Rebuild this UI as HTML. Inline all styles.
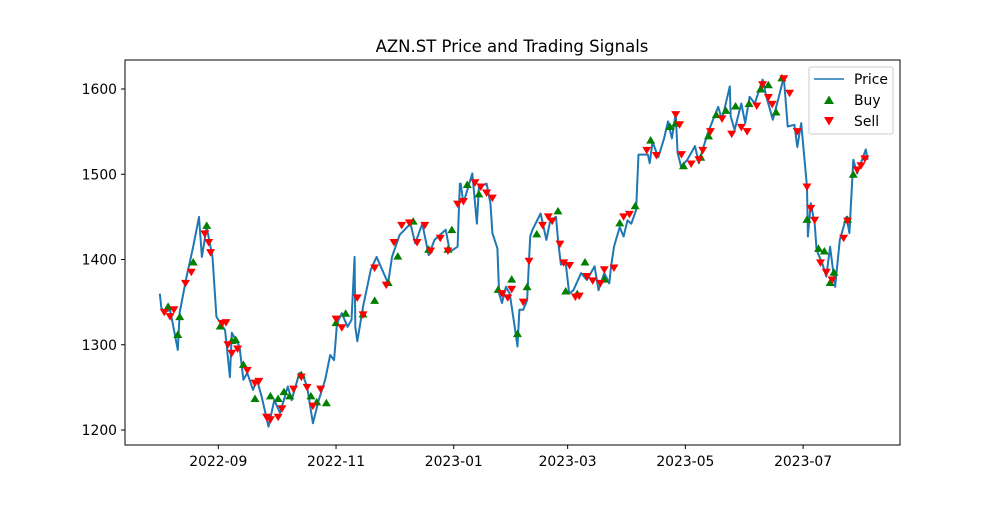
<!DOCTYPE html>
<html><head><meta charset="utf-8"><style>
html,body{margin:0;padding:0;background:#fff;}
svg text{font-family:"DejaVu Sans","Liberation Sans",sans-serif;fill:#000;}
</style></head><body>
<svg id="chart" width="1000" height="500" xmlns="http://www.w3.org/2000/svg">
<rect x="0" y="0" width="1000" height="500" fill="#fff"/>
<text x="512" y="52" text-anchor="middle" font-size="16.5">AZN.ST Price and Trading Signals</text>
<g id="plot"></g>
<rect x="125" y="60" width="775" height="385" fill="none" stroke="#000" stroke-width="1"/>
<g>
<rect x="809" y="67" width="84" height="67" rx="2" fill="#fff" fill-opacity="0.8" stroke="#ccc"/>
<line x1="814" y1="79" x2="844" y2="79" stroke="#1f77b4" stroke-width="1.6"/>
<text x="854" y="84" font-size="13.9">Price</text>
<polygon points="829,95.5 834,104 824,104" fill="#008000"/>
<text x="854" y="105" font-size="13.9">Buy</text>
<polygon points="824,117 834,117 829,125.5" fill="#ff0000"/>
<text x="854" y="126" font-size="13.9">Sell</text>
</g>
</svg>
<script>
// days offset from 2022-08-01
const priceDays=[0.7,1.5,3,6,10,11,14.6,18,21,22.5,25,28,30,34.5,37,38,42,44,46,49,51,53.5,57,60,63,67,69,73,75,77,80,83,86.4,89,91,92.5,95,98,100,101.6,102,103,106,110,113,119,121,125,130.6,133,136.7,140,143,148.8,151,155,155.7,156.2,156.6,158,162.6,165,166,170,172,173,175.6,176.5,178,180,182,184.3,186,187,189,191,192.6,193.8,198,201,203,206,207,208.5,211,212.8,215,219,222,226,228,231,233.6,234.5,236,239,241,243,245,247.5,248.7,253.6,254.5,256,259,262,264,266,268,269,270.8,274,278,280,282,284.6,290,292,296,296.5,298.5,302,304,306.3,309,313,315,318.3,321,324,326,329.5,331,333,336,336.5,338,340,341,344,346,348,350.6,353,356.5,358,360,362,366.5,367.5];
const priceVals=[1360,1343,1338,1341,1294,1338,1380,1415,1450,1403,1438,1403,1333,1317,1262,1314,1298,1259,1267,1247,1259,1239,1204,1235,1220,1251,1235,1267,1263,1251,1208,1235,1259,1288,1282,1325,1337,1321,1329,1403,1321,1304,1345,1388,1403,1372,1403,1429,1442,1419,1442,1405,1423,1435,1409,1415,1462,1489,1489,1466,1501,1442,1485,1489,1466,1431,1413,1360,1349,1368,1360,1325,1298,1341,1341,1352,1427,1435,1454,1423,1446,1450,1423,1394,1396,1360,1364,1384,1376,1392,1364,1384,1372,1392,1415,1438,1427,1446,1442,1458,1523,1523,1513,1538,1520,1542,1562,1542,1571,1525,1509,1517,1533,1513,1529,1548,1579,1564,1603,1568,1552,1583,1560,1591,1583,1611,1591,1564,1587,1614,1556,1558,1532,1560,1485,1427,1466,1442,1411,1395,1380,1415,1368,1423,1450,1431,1517,1501,1529,1517,1520];
const buyDays=[5,10,11,18,25,32,38,40,44,50,58,62,65,68,74,79,82,87,92,97,106,112,119,124,132,140,150,152,160,166,176,183,186,191,196,207,211,217,221,231,239,247,255,265,268,272,281,285,289,294,299,306,312,316,320,323,336,342,345,348,350,357,360];
const buyVals=[1345,1312,1333,1397,1440,1322,1305,1306,1277,1237,1240,1237,1245,1240,1265,1240,1233,1232,1326,1337,1336,1352,1373,1404,1445,1412,1412,1435,1488,1477,1365,1377,1313,1368,1430,1457,1363,1360,1397,1377,1443,1463,1540,1556,1560,1510,1520,1545,1570,1575,1580,1583,1600,1605,1573,1613,1447,1413,1410,1373,1385,1447,1500];
const sellDays=[3,6,8,14,17,24,26,27,33,35,36,38,41,46,50,52,56,58,62,64,70,74,77,80,84,92,95,103,106,112,118,122,126,130,134,138,141,146,150,155,158,164,167,170,173,178,181,183,189,192,199,202,204,208,210,213,216,218,222,225,229,231,236,241,244,253,258,268,270,271,276,280,282,286,292,297,302,305,310,313,316,318,324,327,331,336,338,340,343,346,349,355,357,362,364,366];
const sellVals=[1338,1333,1341,1372,1385,1430,1420,1408,1325,1326,1300,1290,1295,1270,1255,1257,1215,1212,1215,1225,1248,1262,1250,1228,1248,1330,1320,1355,1335,1390,1370,1420,1440,1443,1420,1440,1410,1425,1410,1465,1468,1490,1485,1478,1472,1360,1355,1365,1350,1398,1440,1450,1445,1418,1396,1393,1356,1357,1380,1375,1372,1388,1390,1450,1453,1528,1522,1570,1558,1523,1512,1517,1528,1550,1565,1547,1555,1550,1580,1605,1590,1582,1612,1595,1550,1485,1460,1446,1396,1385,1376,1425,1445,1505,1510,1518];
const yTicks=[1200,1300,1400,1500,1600];
const xTickDays=[31,92,153,212,273,334];
const xTickLabels=["2022-09","2022-11","2023-01","2023-03","2023-05","2023-07"];

const NS="http://www.w3.org/2000/svg";
const X=d=>218.3+(d-31)*1.93;
const Y=v=>89+(1600-v)*0.8525;
const plot=document.getElementById('plot');
function mk(tag,attrs){const e=document.createElementNS(NS,tag);for(const k in attrs)e.setAttribute(k,attrs[k]);return e;}

yTicks.forEach(v=>{
  const g=mk('g',{});
  
  
  g.appendChild(mk('line',{x1:121,x2:125,y1:Y(v),y2:Y(v),stroke:'#000'}));
  const t=mk('text',{x:117,y:Y(v)+5,'text-anchor':'end','font-size':13.9});
  t.textContent=v;g.appendChild(t);plot.appendChild(g);
});
xTickDays.forEach((d,i)=>{
  const g=mk('g',{});
  
  
  g.appendChild(mk('line',{x1:X(d),x2:X(d),y1:445,y2:449,stroke:'#000'}));
  const t=mk('text',{x:X(d),y:466,'text-anchor':'middle','font-size':13.9});
  t.textContent=xTickLabels[i];g.appendChild(t);plot.appendChild(g);
});
const pts=priceDays.map((d,i)=>X(d).toFixed(1)+','+Y(priceVals[i]).toFixed(1)).join(' ');
const line=mk('polyline',{points:pts,fill:'none',stroke:'#1f77b4','stroke-width':2,'stroke-linejoin':'round'});


plot.appendChild(line);
buyDays.forEach((d,i)=>{
  const x=X(d),y=Y(buyVals[i]);
  const p=mk('polygon',{points:`${x},${y-4} ${x+4.5},${y+3.5} ${x-4.5},${y+3.5}`,fill:'#008000'});
  
  
  plot.appendChild(p);
});
sellDays.forEach((d,i)=>{
  const x=X(d),y=Y(sellVals[i]);
  const p=mk('polygon',{points:`${x-4.5},${y-3.5} ${x+4.5},${y-3.5} ${x},${y+4}`,fill:'#ff0000'});
  
  
  plot.appendChild(p);
});
</script>
</body></html>
